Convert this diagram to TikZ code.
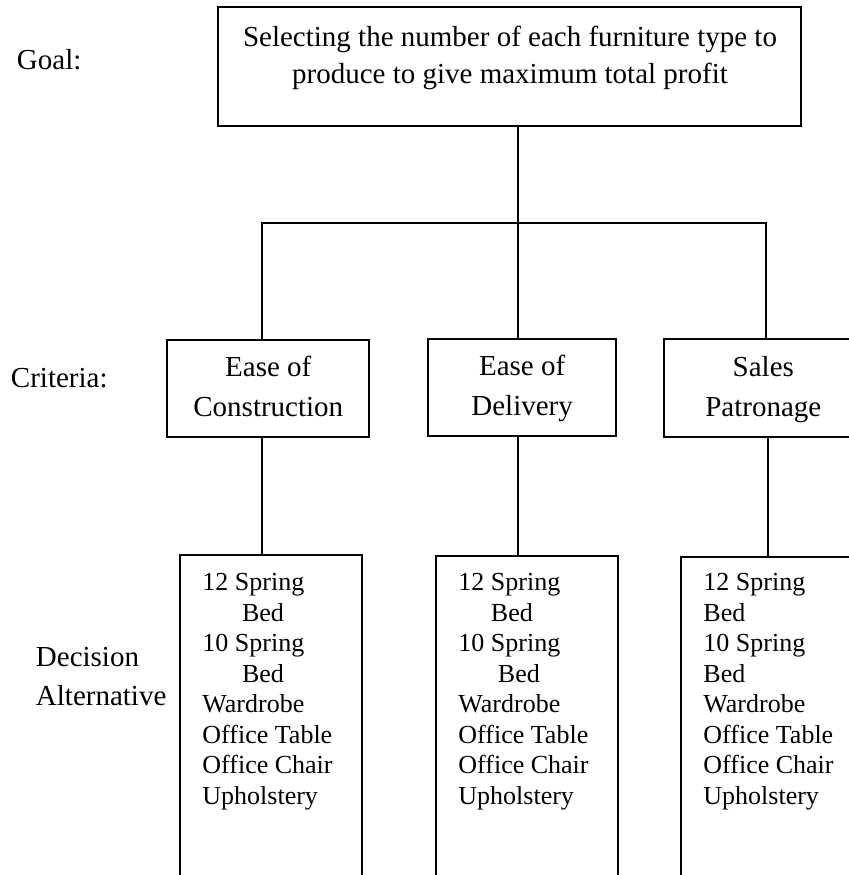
\documentclass[tikz,border=0pt]{standalone}
\usepackage{fontspec}
\setmainfont{Liberation Serif}
\usetikzlibrary{positioning}

\begin{document}
\begin{tikzpicture}[x=0.5pt, y=-0.5pt, line width=0.95pt,
    box/.style={draw, inner sep=0pt},
    lbl/.style={inner sep=0pt, font=\fontsize{14.5}{19.5}\selectfont},
    crit/.style={box, align=center, font=\fontsize{14.5}{20}\selectfont},
    items/.style={inner sep=0pt, align=left, anchor=north west, font=\fontsize{13}{15.25}\selectfont}]

        \useasboundingbox (0,0) rectangle (849,875);
        \clip (0,0) rectangle (849,875);

        % Obiettivo
        \node[lbl, anchor=base west] (goallbl) at (16,69) {Goal:};
        \node[box, minimum width=291.5pt, minimum height=59.2pt] (goal) at (509.75,66.5) {};
        \node[lbl, align=center, font=\fontsize{14.5}{18.75}\selectfont] (goaltxt) at (510,57.25)
            {\strut Selecting the number of each furniture type to\\produce to give maximum total profit\strut};

        % Criteri
        \node[lbl, anchor=base west] (critlbl) at (10,387) {Criteria:};
        \node[crit, minimum width=101pt, minimum height=48.65pt] (crit1) at (268.3,388.65) {\strut Ease of\\Construction\strut};
        \node[crit, minimum width=93.85pt, minimum height=48.35pt] (crit2) at (522.15,387.65) {\strut Ease of\\Delivery\strut};
        \node[crit, minimum width=99.3pt, minimum height=49pt] (crit3) at (763.3,388.3) {\strut Sales\\Patronage\strut};

        % Alternative
        \node[lbl, anchor=west, align=left] (altlbl) at (35,678.4) {\strut Decision\\Alternative\strut};
        \node[box, minimum width=90.85pt, minimum height=173pt, anchor=north] (alt1) at (270.85,554) {};
        \node[box, minimum width=91pt, minimum height=173pt, anchor=north] (alt2) at (527,555) {};
        \node[box, minimum width=91pt, minimum height=173pt, anchor=north] (alt3) at (772,556) {};

        \node[items] (list1) at (201.5,568.2) {\strut 12 Spring\\\hspace*{19.8pt}Bed\\10 Spring\\\hspace*{19.8pt}Bed\\Wardrobe\\Office Table\\Office Chair\\Upholstery};
        \node[items] (list2) at (457.5,568.2) {\strut 12 Spring\\\hspace*{16.25pt}Bed\\10 Spring\\\hspace*{19.75pt}Bed\\Wardrobe\\Office Table\\Office Chair\\Upholstery};
        \node[items] (list3) at (702.5,568.2) {\strut 12 Spring\\Bed\\10 Spring\\Bed\\Wardrobe\\Office Table\\Office Chair\\Upholstery};

        % Collegamenti
        \coordinate (j1) at (261.7,223);
        \coordinate (j2) at (517.7,223);
        \coordinate (j3) at (765.7,223);
        \coordinate (k3) at (768.3,223);
        \draw (goal.south -| j2) -- (j2 |- crit2.north);
        \draw (j1 |- crit1.north) -- (j1) -- (j3) -- (j3 |- crit3.north);
        \draw (j1 |- crit1.south) -- (j1 |- alt1.north);
        \draw (j2 |- crit2.south) -- (j2 |- alt2.north);
        \draw (k3 |- crit3.south) -- (k3 |- alt3.north);

\end{tikzpicture}
\end{document}
